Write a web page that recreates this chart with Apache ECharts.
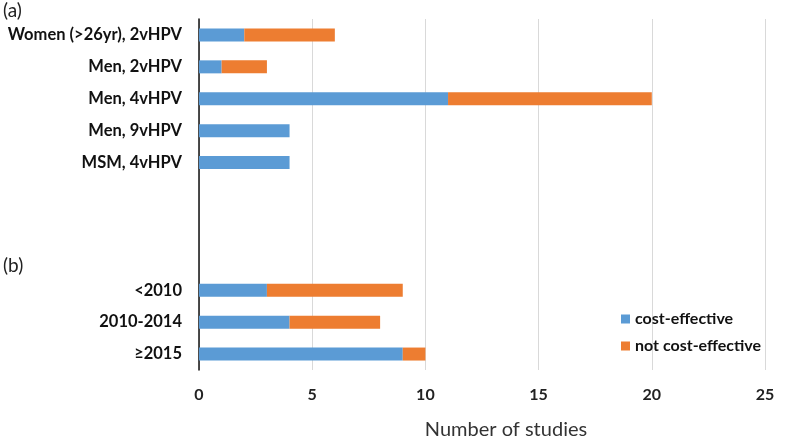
<!DOCTYPE html>
<html><head><meta charset="utf-8">
<script src="https://cdn.jsdelivr.net/npm/echarts@6/dist/echarts.min.js"></script>
<style>html,body{margin:0;padding:0;background:#fff}#c{width:800px;height:443px}</style>
</head><body><div id="c"></div>
<script>
const categories = ['Women (>26yr), 2vHPV','Men, 2vHPV','Men, 4vHPV','Men, 9vHPV','MSM, 4vHPV','','','','<2010','2010-2014','≥2015'];
const costEffective = [2,1,11,4,4,null,null,null,3,4,9];
const notCostEffective = [4,2,9,0,0,null,null,null,6,4,1];
const xTicks = [0,5,10,15,20,25];
const seriesNames = ['cost-effective','not cost-effective'];

const chart = echarts.init(document.getElementById('c'));
const font = 'Lato, "Liberation Sans", sans-serif';
chart.setOption({
  animation:false,
  grid:{left:199,right:35,top:19,bottom:73,containLabel:false},
  xAxis:{type:'value',min:xTicks[0],max:xTicks[xTicks.length-1],interval:5,
    axisLine:{show:false},axisTick:{show:false},
    axisLabel:{fontFamily:font,fontSize:16,fontWeight:'bold',color:'#222',margin:17},
    splitLine:{lineStyle:{color:'#d9d9d9',width:1}}},
  yAxis:{type:'category',data:categories,inverse:true,
    axisLine:{lineStyle:{color:'#111',width:1.5}},axisTick:{show:false},
    axisLabel:{fontFamily:font,fontSize:16.5,fontWeight:'bold',color:'#111',margin:17}},
  legend:{orient:'vertical',left:616,top:306,itemWidth:9,itemHeight:9,itemGap:11,
    icon:'rect',textStyle:{fontFamily:font,fontSize:16,fontWeight:'bold',color:'#111'},
    data:seriesNames},
  graphic:[
    {type:'text',left:3,top:1,style:{text:'(a)',font:'19px '+font,fill:'#222'}},
    {type:'text',left:3,top:256,style:{text:'(b)',font:'19px '+font,fill:'#222'}},
    {type:'text',x:506,y:430,style:{text:'Number of studies',font:'20px '+font,fill:'#333',textAlign:'center',textVerticalAlign:'middle'}}
  ],
  series:[
    {name:seriesNames[0],type:'bar',stack:'s',barWidth:13,data:costEffective,itemStyle:{color:'#5B9BD5'}},
    {name:seriesNames[1],type:'bar',stack:'s',barWidth:13,data:notCostEffective,itemStyle:{color:'#ED7D31'}}
  ]
});
</script></body></html>
